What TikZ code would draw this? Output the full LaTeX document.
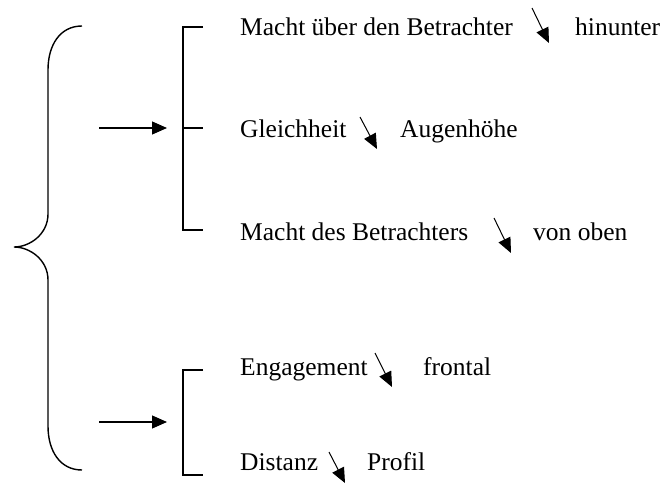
\documentclass[tikz,border=0pt]{standalone}
\usepackage{fontspec}
\setmainfont{Liberation Serif}
\usetikzlibrary{arrows.meta}
\begin{document}
\begin{tikzpicture}[x=1pt,y=-1pt,
  lbl/.style={anchor=base west,inner sep=0pt,font=\fontsize{25.5}{30}\selectfont},
  bigarrow/.style={line width=1.2pt,-{Triangle[length=15pt,width=13pt]}},
  smallarrow/.style={line width=1pt,-{Triangle[length=15pt,width=13pt]}},
  bline/.style={line width=1.1pt},
  brace/.style={line width=1.4pt}]
\useasboundingbox (0,0) rectangle (666,484);
% labels
\node[lbl] (m1) at (240,36) {Macht über den Betrachter};
\node[lbl] (h1) at (575,36) {hinunter};
\node[lbl] (g) at (240,137) {Gleichheit};
\node[lbl] (au) at (400,137) {Augenhöhe};
\node[lbl] (m2) at (240,240) {Macht des Betrachters};
\node[lbl] (vo) at (533,240) {von oben};
\node[lbl] (en) at (240,375) {Engagement};
\node[lbl] (fr) at (423,375) {frontal};
\node[lbl] (di) at (240,470) {Distanz};
\node[lbl] (pr) at (367,470) {Profil};
% brace
\draw[brace] (82,26) .. controls (60,26) and (48,45) .. (48,70) -- (48,214)
  .. controls (48,234) and (30,247) .. (14,247)
  .. controls (30,247) and (48,260) .. (48,280) -- (48,426)
  .. controls (48,451) and (60,470) .. (82,470);
% bracket 1
\coordinate (b1a) at (203,27); \coordinate (b1b) at (183,27);
\coordinate (b1c) at (183,230); \coordinate (b1d) at (203,230);
\coordinate (b1m) at (183,128); \coordinate (b1n) at (203,128);
\draw[bline] (b1a) -- (b1b) -- (b1c) -- (b1d);
\draw[bline] (b1m) -- (b1n);
\coordinate (a1s) at (99,128); \coordinate (a1e) at (167,128);
\draw[bigarrow] (a1s) -- (a1e);
% bracket 2
\coordinate (b2a) at (203,370); \coordinate (b2b) at (183,370);
\coordinate (b2c) at (183,475); \coordinate (b2d) at (203,475);
\draw[bline] (b2a) -- (b2b) -- (b2c) -- (b2d);
\coordinate (a2s) at (99,422); \coordinate (a2e) at (167,422);
\draw[bigarrow] (a2s) -- (a2e);
% small arrows
\coordinate (s1a) at (532,8);   \coordinate (s1b) at (549,43);
\coordinate (s2a) at (360,117); \coordinate (s2b) at (377,149);
\coordinate (s3a) at (494,218); \coordinate (s3b) at (511,253);
\coordinate (s4a) at (375,353); \coordinate (s4b) at (392,387);
\coordinate (s5a) at (329,452); \coordinate (s5b) at (345,483);
\draw[smallarrow] (s1a) -- (s1b);
\draw[smallarrow] (s2a) -- (s2b);
\draw[smallarrow] (s3a) -- (s3b);
\draw[smallarrow] (s4a) -- (s4b);
\draw[smallarrow] (s5a) -- (s5b);
\end{tikzpicture}
\end{document}
